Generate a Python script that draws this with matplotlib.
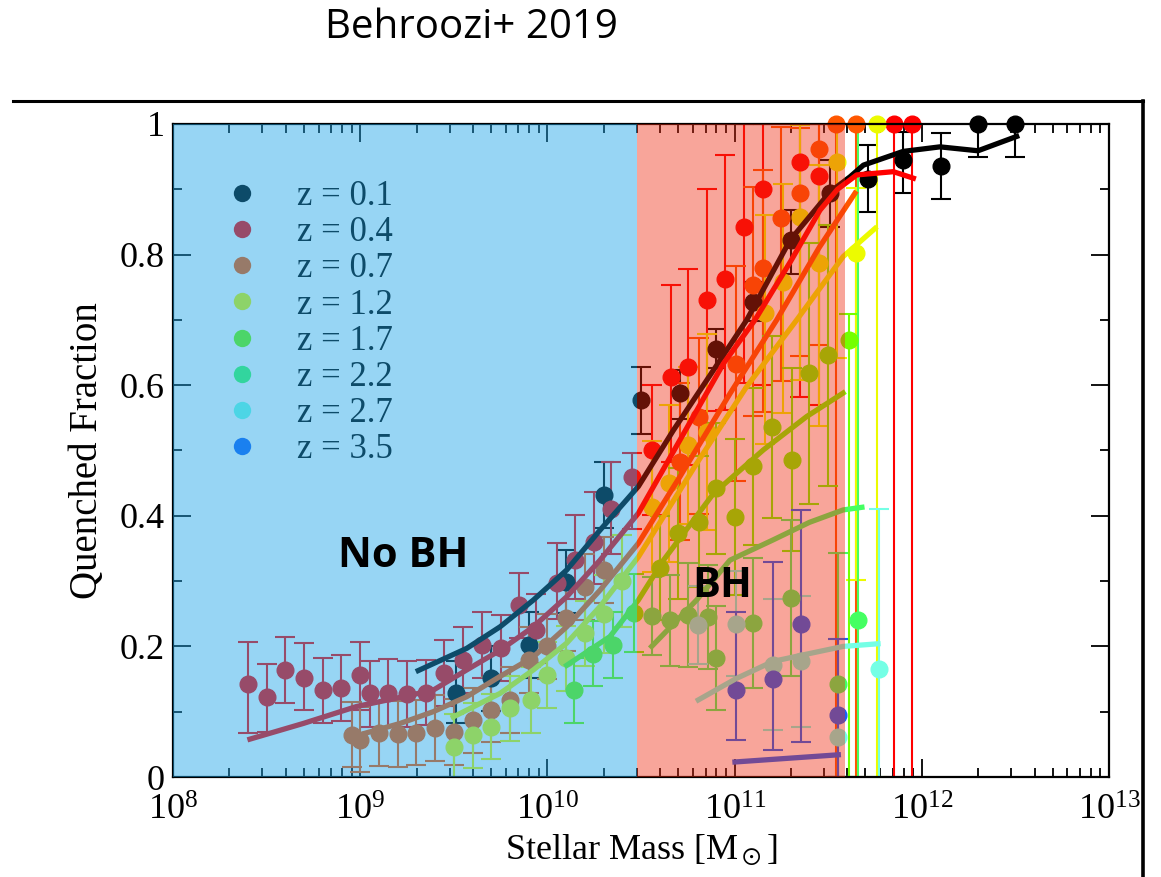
import numpy as np
import matplotlib.pyplot as plt
from matplotlib.lines import Line2D

plt.rcParams['font.family'] = ['Liberation Serif', 'DejaVu Serif']
plt.rcParams['mathtext.fontset'] = 'stix'

# redshift bins and their colours (before the shaded bands are laid over them)
redshifts = ['0.1', '0.4', '0.7', '1.2', '1.7', '2.2', '2.7', '3.5']
colors = ['#000000', '#ff0000', '#ff5700', '#ecfb00', '#74ff00', '#45ff62', '#74ffe5', '#1862f7']

# observed points: log10 stellar mass, quenched fraction, lower / upper error
m01 = [9.51, 9.70, 9.90, 10.10, 10.30, 10.50, 10.71, 10.90, 11.10, 11.30, 11.51, 11.71, 11.90, 12.10, 12.30, 12.50]
f01 = [0.128, 0.151, 0.202, 0.299, 0.432, 0.577, 0.588, 0.656, 0.728, 0.823, 0.894, 0.916, 0.945, 0.936, 1.0, 1.0]
lo01 = [0.045, 0.05, 0.05, 0.048, 0.051, 0.051, 0.04, 0.03, 0.03, 0.052, 0.051, 0.05, 0.051, 0.051, 0.05, 0.051]
hi01 = [0.049, 0.049, 0.051, 0.049, 0.051, 0.051, 0.035, 0.03, 0.03, 0.045, 0.051, 0.052, 0.043, 0.05, 0.0, 0.0]

m04 = [8.40, 8.50, 8.60, 8.70, 8.80, 8.90, 9.00, 9.05, 9.15, 9.25, 9.35, 9.45, 9.55, 9.65, 9.75, 9.85, 9.94,
       10.05, 10.15, 10.25, 10.34, 10.45, 10.56, 10.66, 10.75, 10.85, 10.95, 11.05, 11.15, 11.35, 11.45, 11.85, 11.95]
f04 = [0.142, 0.122, 0.164, 0.152, 0.133, 0.136, 0.156, 0.128, 0.129, 0.127, 0.129, 0.159, 0.179, 0.202, 0.197, 0.263, 0.225,
       0.297, 0.332, 0.360, 0.411, 0.46, 0.501, 0.613, 0.628, 0.730, 0.762, 0.843, 0.90, 0.942, 0.92, 1.0, 1.0]
lo04 = [0.075, 0.053, 0.051, 0.049, 0.051, 0.051, 0.053, 0.051, 0.052, 0.05, 0.05, 0.05, 0.05, 0.05, 0.05, 0.05, 0.05,
        0.055, 0.06, 0.065, 0.07, 0.08, 0.10, 0.13, 0.15, 0.17, 0.2, 0.24, 0.3, 0.36, 0.35, 1.0, 1.0]
hi04 = [0.064, 0.051, 0.051, 0.053, 0.05, 0.051, 0.05, 0.05, 0.052, 0.05, 0.05, 0.051, 0.051, 0.051, 0.051, 0.049, 0.056,
        0.061, 0.069, 0.077, 0.072, 0.036, 0.10, 0.14, 0.15, 0.17, 0.19, 0.157, 0.1, 0.058, 0.08, 0.0, 0.0]

m07 = [8.955, 9.00, 9.10, 9.20, 9.30, 9.40, 9.50, 9.60, 9.70, 9.80, 9.90, 10.00, 10.10, 10.20, 10.30,
       10.71, 10.81, 11.01, 11.10, 11.15, 11.25, 11.35, 11.45, 11.54, 11.65]
f07 = [0.064, 0.057, 0.067, 0.066, 0.068, 0.075, 0.069, 0.087, 0.103, 0.118, 0.179, 0.20, 0.243, 0.291, 0.317,
       0.483, 0.552, 0.633, 0.753, 0.779, 0.856, 0.894, 0.961, 1.0, 1.0]
lo07 = [0.048, 0.05, 0.05, 0.05, 0.05, 0.05, 0.05, 0.05, 0.05, 0.05, 0.05, 0.05, 0.05, 0.05, 0.05,
        0.12, 0.15, 0.18, 0.2, 0.22, 0.25, 0.25, 0.3, 1.0, 1.0]
hi07 = [0.051, 0.05, 0.05, 0.05, 0.05, 0.05, 0.05, 0.05, 0.05, 0.05, 0.05, 0.05, 0.05, 0.05, 0.05,
        0.12, 0.12, 0.15, 0.15, 0.15, 0.14, 0.1, 0.039, 0.0, 0.0]

m12 = [9.50, 9.60, 9.70, 9.80, 9.91, 10.00, 10.10, 10.20, 10.30, 10.40, 10.56, 10.65, 10.75, 10.85,
       11.16, 11.26, 11.35, 11.45, 11.545, 11.65, 11.76]
f12 = [0.046, 0.064, 0.077, 0.105, 0.118, 0.156, 0.182, 0.22, 0.25, 0.30, 0.414, 0.45, 0.508, 0.529,
       0.71, 0.758, 0.858, 0.787, 0.942, 0.802, 1.0]
lo12 = [0.046, 0.05, 0.05, 0.05, 0.05, 0.05, 0.05, 0.05, 0.06, 0.07, 0.1, 0.12, 0.12, 0.15,
        0.2, 0.2, 0.25, 0.25, 0.3, 0.5, 1.0]
hi12 = [0.05, 0.05, 0.05, 0.05, 0.05, 0.05, 0.05, 0.05, 0.06, 0.07, 0.1, 0.12, 0.12, 0.15,
        0.15, 0.15, 0.14, 0.15, 0.058, 0.1, 0.0]

m17 = [10.14, 10.245, 10.35, 10.46, 10.60, 10.70, 10.81, 10.90, 11.00, 11.10, 11.20, 11.305, 11.40, 11.50, 11.61]
f17 = [0.133, 0.189, 0.202, 0.251, 0.32, 0.373, 0.391, 0.442, 0.398, 0.476, 0.536, 0.486, 0.618, 0.646, 0.669]
lo17 = [0.051, 0.05, 0.05, 0.06, 0.08, 0.1, 0.1, 0.1, 0.12, 0.12, 0.14, 0.14, 0.2, 0.2, 0.669]
hi17 = [0.05, 0.05, 0.05, 0.06, 0.08, 0.1, 0.1, 0.1, 0.12, 0.12, 0.14, 0.14, 0.2, 0.2, 0.04]

m22 = [10.557, 10.655, 10.75, 10.856, 10.90, 11.10, 11.30, 11.554, 11.66]
f22 = [0.247, 0.24, 0.248, 0.245, 0.182, 0.236, 0.274, 0.143, 0.24]
lo22 = [0.06, 0.07, 0.08, 0.08, 0.08, 0.1, 0.12, 0.143, 0.24]
hi22 = [0.06, 0.07, 0.08, 0.08, 0.08, 0.1, 0.12, 0.2, 0.76]

m27 = [10.806, 11.007, 11.205, 11.357, 11.554, 11.77]
f27 = [0.233, 0.235, 0.172, 0.177, 0.062, 0.165]
lo27 = [0.06, 0.08, 0.1, 0.1, 0.062, 0.165]
hi27 = [0.06, 0.08, 0.1, 0.1, 0.15, 0.245]

m35 = [11.007, 11.205, 11.355, 11.554]
f35 = [0.133, 0.15, 0.235, 0.095]
lo35 = [0.076, 0.109, 0.182, 0.095]
hi35 = [0.119, 0.18, 0.174, 0.117]

# model curves: log10 stellar mass, quenched fraction
lm01 = [9.31, 9.569, 9.747, 9.925, 10.103, 10.281, 10.486, 10.673, 10.887, 11.065, 11.296, 11.51, 11.616, 11.688, 11.90, 12.097, 12.30, 12.507]
lf01 = [0.163, 0.197, 0.230, 0.271, 0.317, 0.378, 0.445, 0.531, 0.623, 0.70, 0.822, 0.896, 0.919, 0.937, 0.958, 0.965, 0.959, 0.981]
lm04 = [8.411, 8.696, 8.981, 9.23, 9.39, 9.569, 9.747, 9.925, 10.103, 10.281, 10.486, 10.708, 10.94, 11.109, 11.30, 11.456, 11.55, 11.652, 11.848, 11.955]
lf04 = [0.058, 0.082, 0.108, 0.123, 0.133, 0.164, 0.194, 0.23, 0.276, 0.332, 0.404, 0.516, 0.633, 0.70, 0.79, 0.868, 0.90, 0.922, 0.927, 0.917]
lm07 = [9.026, 9.213, 9.39, 9.569, 9.747, 9.925, 10.103, 10.281, 10.486, 10.708, 10.975, 11.225, 11.45, 11.643]
lf07 = [0.067, 0.082, 0.10, 0.123, 0.154, 0.184, 0.23, 0.286, 0.358, 0.46, 0.587, 0.70, 0.81, 0.894]
lm12 = [9.497, 9.747, 9.925, 10.103, 10.281, 10.486, 10.797, 11.065, 11.332, 11.58, 11.75]
lf12 = [0.092, 0.128, 0.164, 0.205, 0.261, 0.337, 0.48, 0.598, 0.70, 0.797, 0.84]
lm17 = [10.103, 10.334, 10.486, 10.62, 10.887, 11.154, 11.385, 11.58]
lf17 = [0.171, 0.215, 0.271, 0.332, 0.434, 0.501, 0.552, 0.588]
lm22 = [10.557, 10.797, 10.975, 11.205, 11.40, 11.58, 11.68]
lf22 = [0.2, 0.271, 0.332, 0.363, 0.39, 0.409, 0.413]
lm27 = [10.806, 11.01, 11.205, 11.366, 11.58, 11.766]
lf27 = [0.118, 0.151, 0.177, 0.187, 0.2, 0.204]
lm35 = [11.002, 11.554]
lf35 = [0.023, 0.034]

# mass ranges of the two shaded bands
no_bh_range = (1e8, 3.0e10)
bh_range = (3.0e10, 3.9e11)

points = [(m01, f01, lo01, hi01), (m04, f04, lo04, hi04), (m07, f07, lo07, hi07), (m12, f12, lo12, hi12),
          (m17, f17, lo17, hi17), (m22, f22, lo22, hi22), (m27, f27, lo27, hi27), (m35, f35, lo35, hi35)]
curves = [(lm01, lf01), (lm04, lf04), (lm07, lf07), (lm12, lf12),
          (lm17, lf17), (lm22, lf22), (lm27, lf27), (lm35, lf35)]

fig = plt.figure(figsize=(11.61, 8.77), dpi=100)
ax = fig.add_axes([173 / 1161, 1 - 777 / 877, 936 / 1161, 653 / 877])

for (m, f, lo, hi), c in zip(points, colors):
    eb = ax.errorbar(10 ** np.array(m), f, yerr=[lo, hi], fmt='o', color=c, ms=12,
                     elinewidth=1.5, capsize=7, capthick=1.5, zorder=2)
    eb[0].set_clip_on(False)

for (m, f), c in zip(curves, colors):
    ax.plot(10 ** np.array(m), f, color=c, lw=3.8, zorder=2.2)

handles = [Line2D([], [], marker='o', ls='', color=c, ms=12.5, mew=0) for c in colors]
labels = ['z = ' + z for z in redshifts]
leg = ax.legend(handles, labels, loc='upper left', bbox_to_anchor=(0.0551, 0.914), frameon=False,
                fontsize=25, handlelength=1.0, handletextpad=1.1, labelspacing=0.09,
                borderpad=0, borderaxespad=0)
leg.set_zorder(2.6)

# translucent bands laid over everything underneath
ax.axvspan(*no_bh_range, color='#1da4e7', alpha=0.46, lw=0, zorder=3)
ax.axvspan(*bh_range, color='#f02a10', alpha=0.42, lw=0, zorder=3)

ax.text(0.2457, 0.337, 'No BH', transform=ax.transAxes, ha='center', va='center',
        fontsize=30, fontweight='bold', family='Open Sans', zorder=5)
ax.text(0.5865, 0.291, 'BH', transform=ax.transAxes, ha='center', va='center',
        fontsize=30, fontweight='bold', family='Open Sans', zorder=5)

ax.set_xscale('log')
ax.set_xlim(1e8, 1e13)
ax.set_ylim(0, 1)
ax.set_yticks([0, 0.2, 0.4, 0.6, 0.8, 1.0])
ax.set_yticklabels(['0', '0.2', '0.4', '0.6', '0.8', '1'])
ax.set_yticks(np.arange(0.1, 1.0, 0.2), minor=True)
ax.tick_params(which='both', direction='in', top=True, right=True, width=1.3, labelsize=26)
ax.tick_params(which='major', length=13, pad=6)
ax.tick_params(axis='x', which='major', pad=13)
ax.tick_params(which='minor', length=6.5)
for sp in ax.spines.values():
    sp.set_linewidth(1.6)

ax.set_xlabel(r'Stellar Mass [M$_\odot$]', fontsize=26, labelpad=3)
ax.set_ylabel('Quenched Fraction', fontsize=28, labelpad=10)

fig.text(0.4057, 0.968, 'Behroozi+ 2019', ha='center', va='center', fontsize=29, family='Open Sans')

# slide frame around the figure
fig.add_artist(Line2D([13 / 1161, 1143 / 1161], [1 - 101 / 877] * 2, transform=fig.transFigure, color='k', lw=2.2))
fig.add_artist(Line2D([1143 / 1161] * 2, [0, 1 - 101 / 877], transform=fig.transFigure, color='k', lw=2.6))

fig.savefig('out.png', dpi=100)
